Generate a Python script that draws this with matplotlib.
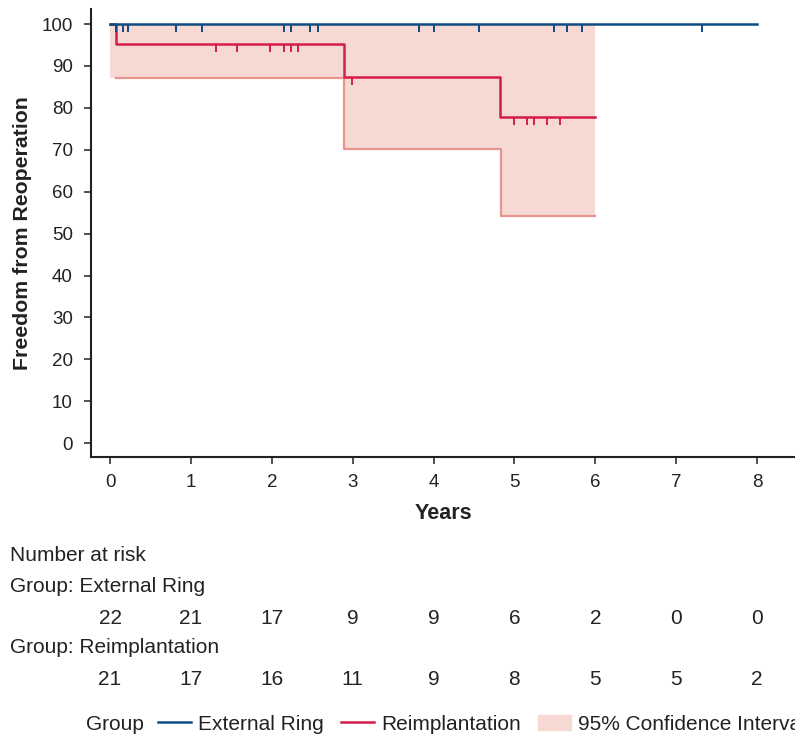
import matplotlib.pyplot as plt
import numpy as np
from matplotlib.path import Path
from matplotlib.lines import Line2D
from matplotlib.patches import Patch
import matplotlib.transforms as mtrans

plt.rcParams['font.family'] = ['Liberation Sans', 'DejaVu Sans']

# Kaplan-Meier steps
ring_t = [0.0, 8.0]
ring_s = [100, 100]
ring_cens = [0.07, 0.16, 0.22, 0.82, 1.14, 2.15, 2.24, 2.47, 2.57,
             3.82, 4.00, 4.56, 5.49, 5.65, 5.84, 7.32]

reimp_t = [0.0, 0.07, 2.89, 4.82, 6.0]
reimp_s = [100, 95.2, 87.4, 77.8, 77.8]
reimp_cens = [1.31, 1.57, 1.98, 2.15, 2.24, 2.32, 2.99,
              4.99, 5.15, 5.24, 5.40, 5.57]

ci_t = [0.0, 2.89, 4.83, 6.0]
ci_low = [87.1, 70.3, 54.2, 54.2]
ci_high = [100, 100, 100, 100]

years = [0, 1, 2, 3, 4, 5, 6, 7, 8]
risk_ring = [22, 21, 17, 9, 9, 6, 2, 0, 0]
risk_reimp = [21, 17, 16, 11, 9, 8, 5, 5, 2]

blue = '#0d4c82'
red = '#d51c48'
ci_fill = '#f7d9d3'
ci_line = '#e8938b'
txt = '#222222'

fig = plt.figure(figsize=(7.95, 7.36), dpi=100)
ax = fig.add_axes([0.1145, 0.379, 0.8855, 0.6088])

ax.fill_between(ci_t, ci_low, ci_high, step='post', color=ci_fill, lw=0)
# lower confidence boundary, drawn from first event on
lo_t = [reimp_t[1]] + ci_t[1:]
lo_v = [ci_low[0]] + ci_low[1:]
ax.step(lo_t, lo_v, where='post', color=ci_line, lw=1.6)

ax.step(reimp_t, reimp_s, where='post', color=red, lw=1.8)
ax.step(ring_t, ring_s, where='post', color=blue, lw=1.8)

tick_mark = Path([(0, 0), (0, -1)])
ax.plot(ring_cens, [100] * len(ring_cens), ls='none', marker=tick_mark,
        ms=11, mec=blue, mew=1.4)
rc_y = [reimp_s[np.searchsorted(reimp_t, c, side='right') - 1] for c in reimp_cens]
ax.plot(reimp_cens, rc_y, ls='none', marker=tick_mark,
        ms=11, mec=red, mew=1.4)

ax.set_xlim(-0.235, 8.47)
ax.set_ylim(-3.3, 103.6)
ax.set_xticks(years)
ax.set_yticks(range(0, 101, 10))
for s in ['top', 'right']:
    ax.spines[s].set_visible(False)
for s in ['left', 'bottom']:
    ax.spines[s].set_linewidth(1.5)
    ax.spines[s].set_color(txt)
ax.tick_params(labelsize=13.5, length=5, width=1.1, color=txt,
               labelcolor=txt)
ax.tick_params(axis='x', pad=7)
ax.tick_params(axis='y', pad=8)
ax.set_xlabel('Years', fontsize=15.5, fontweight='bold', labelpad=9, color=txt)
ax.set_ylabel('Freedom from Reoperation', fontsize=15.3, fontweight='bold',
              labelpad=7, color=txt)

# number at risk table
tr = mtrans.blended_transform_factory(ax.transData, fig.transFigure)
fs = 15
fig.text(10 / 795, 0.2455, 'Number at risk', fontsize=fs, va='center', color=txt)
fig.text(10 / 795, 0.2035, 'Group: External Ring', fontsize=fs, va='center', color=txt)
fig.text(10 / 795, 0.1205, 'Group: Reimplantation', fontsize=fs, va='center', color=txt)
for x, a, b in zip(years, risk_ring, risk_reimp):
    ax.text(x, 0.160, str(a), transform=tr, ha='center', va='center',
            fontsize=fs, color=txt, clip_on=False)
    ax.text(x, 0.077, str(b), transform=tr, ha='center', va='center',
            fontsize=fs, color=txt, clip_on=False)

# legend
fig.text(86 / 795, 0.016, 'Group', fontsize=fs, va='center', color=txt)
handles = [Line2D([], [], color=blue, lw=1.8),
           Line2D([], [], color=red, lw=1.8),
           Patch(color=ci_fill)]
fig.legend(handles, ['External Ring', 'Reimplantation', '95% Confidence Interval'],
           loc='center left', bbox_to_anchor=(150 / 795, 0.016), ncol=3,
           frameon=False, fontsize=fs, handlelength=1.55, handletextpad=0.35,
           columnspacing=0.85, labelcolor=txt, borderaxespad=0)

fig.savefig('out.png', dpi=100)
